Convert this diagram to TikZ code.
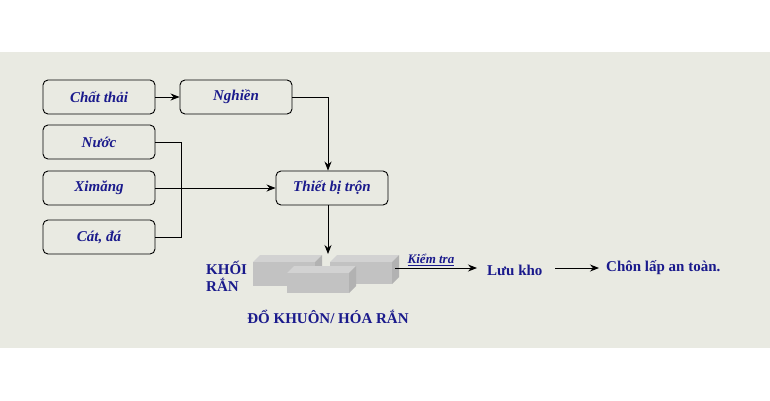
\documentclass[tikz,border=0pt]{standalone}
\usepackage{fontspec}
\setmainfont{Liberation Serif}
\usetikzlibrary{arrows.meta}
\definecolor{bg}{HTML}{E9EAE2}
\definecolor{tb}{HTML}{1A1A8C}
\tikzset{x=1pt,y=-1pt,
 box/.style={draw,rounded corners=5pt,fill=bg,minimum width=112pt,minimum height=34pt,font=\itshape\bfseries\fontsize{15}{17}\selectfont,text=tb,line width=0.9pt},
 arr/.style={-{Stealth[length=9pt,width=7pt]},line width=0.9pt},
 ln/.style={line width=0.9pt},
 lbl/.style={font=\bfseries\fontsize{15}{17}\selectfont,text=tb,inner sep=0pt}}
\begin{document}
\begin{tikzpicture}
\useasboundingbox (0,0) rectangle (770,400);
\fill[bg] (0,52) rectangle (770,348);
\node[box] (ct) at (99,97) {Chất thải};
\node[box] (ng) at (236,97) {Nghiền};
\node[box] (nu) at (99,142) {Nước};
\node[box] (xm) at (99,188) {Ximăng};
\node[box] (cd) at (99,237) {Cát, đá};
\node[box] (tb) at (332,188) {Thiết bị trộn};
\coordinate (top) at (328,254);
\coordinate (out) at (395,268);
\coordinate (lkin) at (477,268);
\coordinate (clo) at (555,268);
\coordinate (cli) at (599,268);
\draw[arr] (ct) -- (ng);
\draw[arr] (ng.east) -| (tb.north -| top);
\draw[ln] (nu.east) -- (181,142) -- (181,237) -- (cd.east);
\draw[arr] (xm) -- (tb);
\draw[arr] (tb.south -| top) -- (top);
% blocks
\foreach \xa/\ya/\w/\h in {253/262/62/24,330/262/62/22,287/273/62/20}{
 \fill[gray!35] (\xa,\ya) -- ++(7,-7) -- ++(\w,0) -- ++(-7,7) -- cycle;
 \fill[gray!60] (\xa+\w,\ya) -- ++(7,-7) -- ++(0,\h) -- ++(-7,7) -- cycle;
 \fill[gray!48] (\xa,\ya) rectangle ++(\w,\h);
}
\node[lbl,align=left,anchor=west] (kr) at (206,276) {KHỐI\\RẮN};
\node[lbl] (dk) at (328,317) {ĐỔ KHUÔN/ HÓA RẮN};
\node[lbl,anchor=west] (lk) at (487,270) {Lưu kho};
\node[lbl,anchor=west] (cl) at (606,268) {Chôn lấp an toàn.};
\draw[arr] (out) -- (lkin);
\node[lbl,font=\itshape\bfseries\fontsize{13}{15}\selectfont,anchor=south] (kt) at (431,266) {\underline{Kiểm tra}};
\draw[arr] (clo) -- (cli);
\end{tikzpicture}
\end{document}
